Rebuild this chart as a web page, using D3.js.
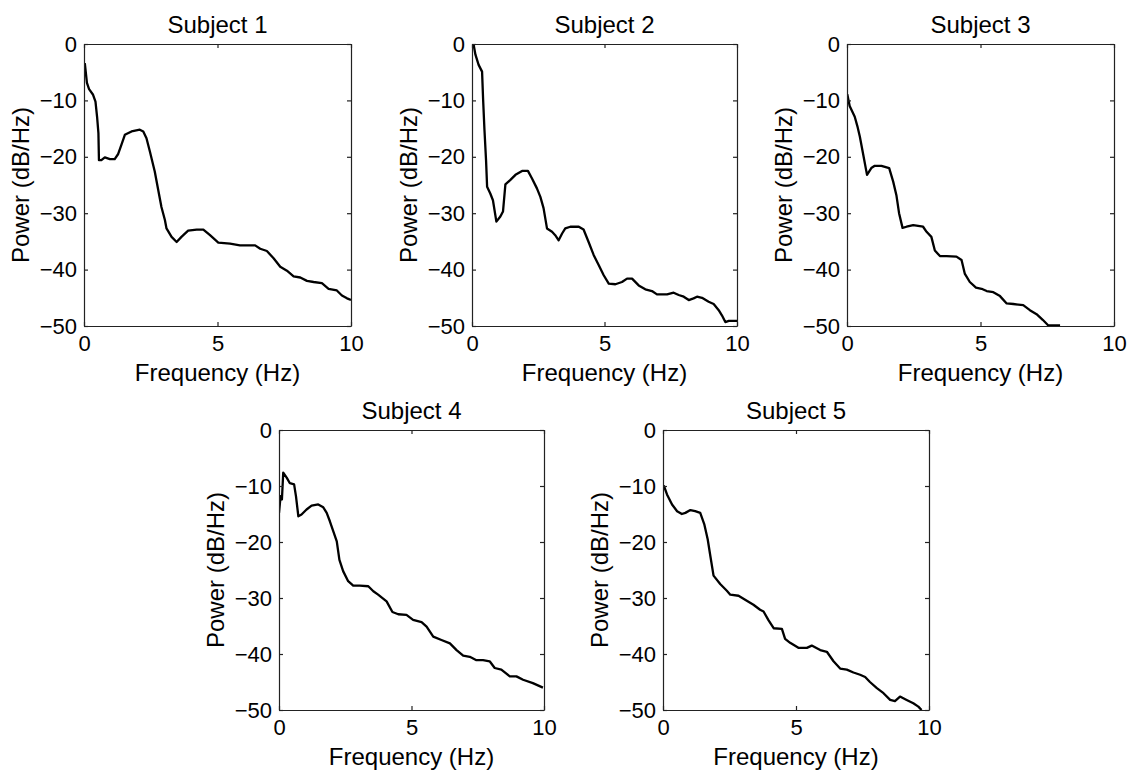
<!DOCTYPE html>
<html>
<head>
<meta charset="utf-8">
<script src="https://cdn.jsdelivr.net/npm/d3@7"></script>
<style>
  html, body { margin: 0; padding: 0; background: #fff; }
  svg { display: block; }
  text { font-family: "Liberation Sans", Arial, sans-serif; fill: #000; }
</style>
</head>
<body>
<svg id="chart" width="1138" height="774"></svg>
<script>
// ---- data ----
const titles = ["Subject 1", "Subject 2", "Subject 3", "Subject 4", "Subject 5"];
const xTicks = [0, 5, 10];
const yTicks = [0, -10, -20, -30, -40, -50];

const s1Freq = [0.03,0.11,0.19,0.34,0.43,0.49,0.54,0.56,0.65,0.78,0.97,1.15,1.28,1.40,1.53,1.78,2.09,2.22,2.34,2.47,2.65,2.78,2.90,3.03,3.09,3.28,3.47,3.65,3.90,4.22,4.47,4.72,5.03,5.47,5.84,6.41,6.60,6.85,7.10,7.35,7.60,7.85,8.10,8.35,8.60,8.91,9.16,9.47,9.66,9.85,10.0];
const s1Pow  = [-3.4,-6.9,-8.0,-9.0,-10.2,-12.9,-15.8,-20.6,-20.6,-20.1,-20.4,-20.4,-19.5,-17.9,-16.1,-15.5,-15.2,-15.5,-16.7,-19.1,-22.6,-25.9,-28.9,-31.2,-32.7,-34.2,-35.1,-34.2,-33.1,-32.9,-32.9,-33.9,-35.2,-35.4,-35.7,-35.7,-36.3,-36.7,-38.0,-39.5,-40.2,-41.2,-41.4,-42.0,-42.2,-42.4,-43.4,-43.7,-44.6,-45.1,-45.4];

const s2Freq = [0.06,0.13,0.25,0.38,0.42,0.47,0.53,0.57,0.69,0.79,0.92,1.07,1.17,1.26,1.45,1.64,1.89,2.11,2.26,2.45,2.58,2.70,2.83,3.02,3.14,3.27,3.40,3.52,3.71,4.03,4.21,4.40,4.59,4.78,4.97,5.16,5.41,5.66,5.85,6.04,6.29,6.54,6.79,6.98,7.36,7.61,7.80,7.99,8.18,8.36,8.49,8.68,8.93,9.12,9.31,9.43,9.56,9.69,10.0];
const s2Pow  = [-0.1,-1.9,-3.7,-4.9,-9.9,-15.2,-20.6,-25.3,-26.5,-27.7,-31.5,-30.6,-29.7,-24.9,-24.1,-23.2,-22.5,-22.5,-23.8,-25.6,-27.1,-29.1,-32.7,-33.3,-33.9,-34.8,-33.6,-32.7,-32.4,-32.4,-32.9,-35.1,-37.4,-39.2,-41.0,-42.5,-42.6,-42.2,-41.6,-41.6,-42.8,-43.5,-43.8,-44.4,-44.4,-44.1,-44.5,-44.8,-45.4,-45.1,-44.8,-45.0,-45.7,-46.1,-47.2,-48.1,-49.3,-49.1,-49.1];

const s3Freq = [0.01,0.10,0.29,0.39,0.48,0.60,0.75,0.91,1.04,1.29,1.58,1.73,1.85,1.95,2.08,2.23,2.48,2.85,2.98,3.16,3.29,3.48,3.73,4.10,4.29,4.41,4.60,4.83,5.04,5.23,5.48,5.73,5.98,6.23,6.60,6.85,7.10,7.33,7.54,7.98];
const s3Pow  = [-8.9,-11.0,-12.9,-14.6,-16.4,-19.4,-23.2,-22.0,-21.6,-21.6,-22.0,-24.4,-26.8,-30.0,-32.6,-32.4,-32.1,-32.4,-33.3,-34.2,-36.6,-37.6,-37.6,-37.7,-38.3,-40.7,-42.2,-43.2,-43.4,-43.8,-44.0,-44.7,-46.0,-46.1,-46.3,-47.2,-47.9,-48.9,-49.9,-49.9];

const s4Freq = [0.00,0.06,0.11,0.16,0.29,0.41,0.57,0.64,0.73,0.85,1.04,1.23,1.48,1.67,1.80,1.92,2.05,2.18,2.28,2.42,2.61,2.80,3.05,3.37,3.56,3.74,4.06,4.28,4.50,4.81,5.06,5.38,5.57,5.82,6.13,6.45,6.70,6.95,7.20,7.45,7.70,7.95,8.14,8.39,8.71,8.96,9.21,9.58,9.96];
const s4Pow  = [-14.8,-11.8,-12.4,-7.6,-8.5,-9.5,-9.7,-11.8,-15.4,-15.1,-14.2,-13.5,-13.3,-13.8,-14.8,-16.3,-18.1,-19.9,-23.2,-25.2,-27.0,-27.8,-27.8,-27.9,-28.8,-29.4,-30.6,-32.5,-32.9,-33.0,-33.9,-34.3,-35.1,-36.9,-37.5,-38.1,-39.3,-40.3,-40.5,-41.1,-41.1,-41.3,-42.5,-42.8,-44.0,-44.0,-44.6,-45.2,-46.0];

const s5Freq = [0.03,0.15,0.34,0.53,0.71,0.84,1.03,1.21,1.40,1.55,1.68,1.78,1.90,2.15,2.40,2.53,2.84,3.15,3.40,3.65,3.78,3.97,4.16,4.47,4.59,4.78,5.09,5.41,5.59,5.91,6.16,6.41,6.66,6.91,7.16,7.41,7.60,7.78,8.04,8.29,8.54,8.72,8.91,9.16,9.41,9.60,9.72];
const s5Pow  = [-9.9,-11.5,-13.3,-14.5,-15.0,-14.8,-14.3,-14.5,-14.8,-16.8,-19.5,-22.5,-26.0,-27.5,-28.7,-29.4,-29.6,-30.5,-31.2,-32.1,-32.4,-34.0,-35.4,-35.5,-37.3,-38.0,-38.9,-38.9,-38.5,-39.3,-39.6,-41.3,-42.6,-42.8,-43.3,-43.7,-44.1,-45.0,-46.1,-47.0,-48.2,-48.4,-47.6,-48.2,-48.8,-49.4,-50.0];

const freqs = [s1Freq, s2Freq, s3Freq, s4Freq, s5Freq];
const powers = [s1Pow, s2Pow, s3Pow, s4Pow, s5Pow];

// ---- layout (plot boxes) ----
const boxes = [
  {x0: 84,  x1: 351,  y0: 44,  y1: 326},
  {x0: 472, x1: 737,  y0: 44,  y1: 326},
  {x0: 847, x1: 1114, y0: 44,  y1: 326},
  {x0: 279, x1: 544,  y0: 430, y1: 710},
  {x0: 663, x1: 929,  y0: 430, y1: 710}
];

const svg = d3.select("#chart");
const tickLen = 4;

boxes.forEach((b, i) => {
  const x = d3.scaleLinear().domain([0, 10]).range([b.x0, b.x1]);
  const y = d3.scaleLinear().domain([-50, 0]).range([b.y1, b.y0]);
  const g = svg.append("g");

  const clipId = "clip" + i;
  svg.append("clipPath").attr("id", clipId)
    .append("rect").attr("x", b.x0).attr("y", b.y0 - 1)
    .attr("width", b.x1 - b.x0).attr("height", b.y1 - b.y0 + 1);

  // data line
  const pts = freqs[i].map((f, k) => [f, powers[i][k]]);
  g.append("path")
    .datum(pts)
    .attr("clip-path", `url(#${clipId})`)
    .attr("fill", "none")
    .attr("stroke", "#000")
    .attr("stroke-width", 2.3)
    .attr("stroke-linejoin", "round")
    .attr("d", d3.line().x(d => x(d[0])).y(d => y(d[1])));

  // axes (inward ticks) on all four sides
  const axL = g.append("g").attr("transform", `translate(${b.x0},0)`)
    .call(d3.axisLeft(y).tickValues(yTicks).tickSizeInner(-tickLen).tickSizeOuter(0).tickPadding(7).tickFormat(d3.format("d")));
  const axR = g.append("g").attr("transform", `translate(${b.x1},0)`)
    .call(d3.axisRight(y).tickValues(yTicks).tickSizeInner(-tickLen).tickSizeOuter(0).tickFormat(""));
  const axB = g.append("g").attr("transform", `translate(0,${b.y1})`)
    .call(d3.axisBottom(x).tickValues(xTicks).tickSizeInner(-tickLen).tickSizeOuter(0).tickPadding(9));
  const axT = g.append("g").attr("transform", `translate(0,${b.y0})`)
    .call(d3.axisTop(x).tickValues(xTicks).tickSizeInner(-tickLen).tickSizeOuter(0).tickFormat(""));

  [axL, axR, axB, axT].forEach(a => {
    a.select(".domain").attr("stroke", "#222").attr("stroke-width", 1.2);
    a.selectAll(".tick line").attr("stroke", "#222").attr("stroke-width", 1.2);
    a.selectAll("text").attr("font-family", "Liberation Sans, Arial, sans-serif").attr("font-size", 22).attr("fill", "#000");
  });
  axB.selectAll("text").attr("dy", "0.71em");

  // title
  g.append("text")
    .attr("x", (b.x0 + b.x1) / 2).attr("y", b.y0 - 11)
    .attr("text-anchor", "middle").attr("font-size", 24)
    .text(titles[i]);

  // x label
  g.append("text")
    .attr("x", (b.x0 + b.x1) / 2).attr("y", b.y1 + 55)
    .attr("text-anchor", "middle").attr("font-size", 24)
    .text("Frequency (Hz)");

  // y label
  const cy = (b.y0 + b.y1) / 2;
  g.append("text")
    .attr("transform", `translate(${b.x0 - 55},${cy}) rotate(-90)`)
    .attr("text-anchor", "middle").attr("font-size", 24)
    .text("Power (dB/Hz)");
});
</script>
</body>
</html>
